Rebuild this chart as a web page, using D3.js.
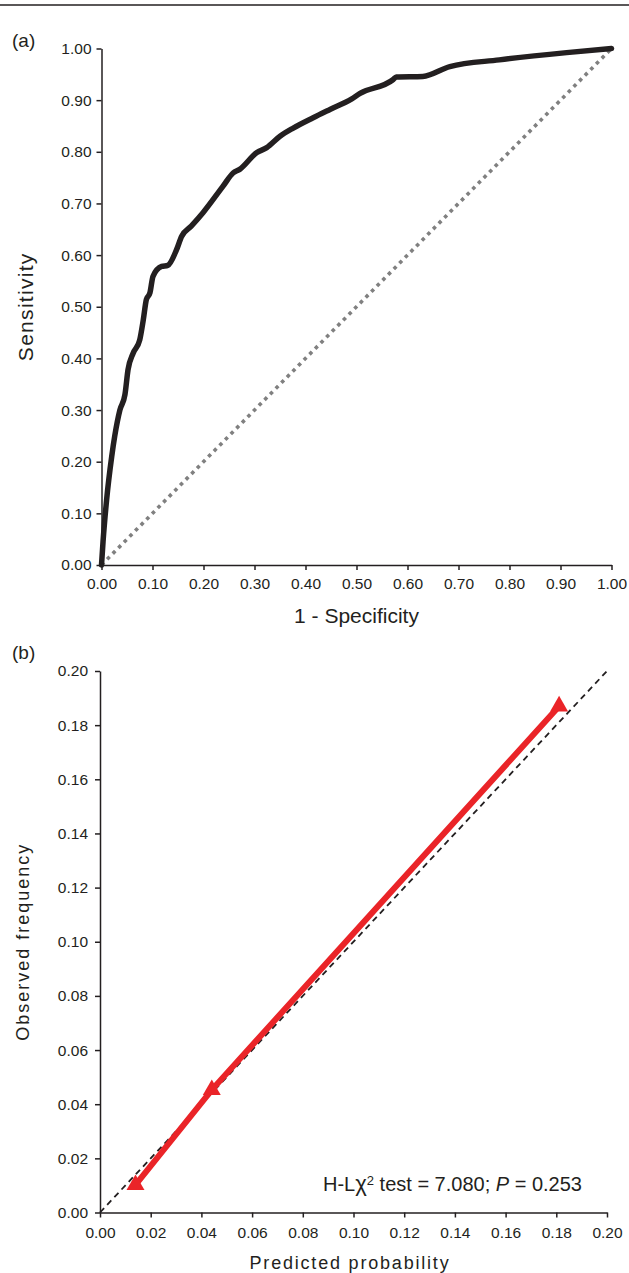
<!DOCTYPE html>
<html>
<head>
<meta charset="utf-8">
<script src="https://cdn.jsdelivr.net/npm/d3@7"></script>
<style>
  html, body { margin: 0; padding: 0; background: #fff; }
  svg { display: block; font-family: "Liberation Sans", Arial, Helvetica, sans-serif; }
</style>
</head>
<body>
<div id="chart"></div>
<script>
// (a) ROC curve
const rocFpr = [0, 0.003, 0.01, 0.02, 0.026, 0.036, 0.046, 0.052, 0.062, 0.075, 0.082, 0.088, 0.095, 0.101,
  0.118, 0.13, 0.147, 0.157, 0.176, 0.199, 0.238, 0.258, 0.271, 0.304, 0.324, 0.35, 0.376, 0.415, 0.448,
  0.49, 0.507, 0.572, 0.578, 0.63, 0.683, 0.78, 0.912, 1.0];
const rocTpr = [0, 0.045, 0.126, 0.21, 0.25, 0.30, 0.33, 0.378, 0.41, 0.436, 0.475, 0.514, 0.527, 0.559,
  0.578, 0.58, 0.61, 0.636, 0.656, 0.682, 0.733, 0.759, 0.766, 0.798, 0.808, 0.83, 0.846, 0.866, 0.882,
  0.902, 0.913, 0.94, 0.945, 0.946, 0.965, 0.978, 0.992, 1.0];
const rocTicks = [0, 0.1, 0.2, 0.3, 0.4, 0.5, 0.6, 0.7, 0.8, 0.9, 1.0];

// (b) calibration, three risk groups
const calPredicted = [0.014, 0.0441, 0.1811];
const calObserved = [0.0102, 0.0453, 0.187];
const calTicks = [0, 0.02, 0.04, 0.06, 0.08, 0.10, 0.12, 0.14, 0.16, 0.18, 0.20];

const width = 629;
const height = 1273;
const ink = "#231f20";

const svg = d3.select("#chart")
  .append("svg")
  .attr("width", width)
  .attr("height", height);

// thin rule across the top of the page
svg.append("line")
  .attr("x1", 0).attr("x2", width)
  .attr("y1", 5).attr("y2", 5)
  .attr("stroke", ink)
  .attr("stroke-width", 1.6);

function styleAxis(g, fontSize) {
  g.select(".domain").attr("stroke", ink).attr("stroke-width", 1.5);
  g.selectAll(".tick line").attr("stroke", ink).attr("stroke-width", 1.5);
  g.selectAll(".tick text")
    .attr("fill", ink)
    .style("font-size", fontSize + "px")
    .style("font-family", '"Liberation Sans", Arial, sans-serif');
}

// ---------- panel (a) ----------
const xa = d3.scaleLinear().domain([0, 1]).range([101.5, 611.5]);
const ya = d3.scaleLinear().domain([0, 1]).range([565, 48.5]);

const panelA = svg.append("g");

panelA.append("g")
  .attr("transform", `translate(0,${ya(0)})`)
  .call(d3.axisBottom(xa).tickValues(rocTicks).tickFormat(d3.format(".2f")).tickSize(5).tickSizeOuter(0).tickPadding(8))
  .call(g => styleAxis(g, 15.5));

panelA.append("g")
  .attr("transform", `translate(${xa(0)},0)`)
  .call(d3.axisLeft(ya).tickValues(rocTicks).tickFormat(d3.format(".2f")).tickSize(5).tickSizeOuter(0).tickPadding(5))
  .call(g => styleAxis(g, 15.5));

// chance line
panelA.append("line")
  .attr("x1", xa(0)).attr("y1", ya(0))
  .attr("x2", xa(1)).attr("y2", ya(1))
  .attr("stroke", "#808080")
  .attr("stroke-width", 3.6)
  .attr("stroke-dasharray", "3.6,4.4");

const rocPoints = rocFpr.map((x, i) => [x, rocTpr[i]]);
const rocLine = d3.line()
  .x(d => xa(d[0]))
  .y(d => ya(d[1]))
  .curve(d3.curveMonotoneX);

panelA.append("path")
  .datum(rocPoints)
  .attr("d", rocLine)
  .attr("fill", "none")
  .attr("stroke", ink)
  .attr("stroke-width", 5.5)
  .attr("stroke-linejoin", "round")
  .attr("stroke-linecap", "round");

panelA.append("text")
  .attr("x", 12).attr("y", 47)
  .attr("fill", ink)
  .style("font-size", "19px")
  .text("(a)");

panelA.append("text")
  .attr("transform", `translate(33,${(ya(0) + ya(1)) / 2}) rotate(-90)`)
  .attr("text-anchor", "middle")
  .attr("fill", ink)
  .style("font-size", "21px")
  .style("letter-spacing", "1.3px")
  .text("Sensitivity");

panelA.append("text")
  .attr("x", (xa(0) + xa(1)) / 2)
  .attr("y", 623)
  .attr("text-anchor", "middle")
  .attr("fill", ink)
  .style("font-size", "21px")
  .text("1 - Specificity");

// ---------- panel (b) ----------
const xb = d3.scaleLinear().domain([0, 0.2]).range([100, 607]);
const yb = d3.scaleLinear().domain([0, 0.2]).range([1212.5, 671]);

const panelB = svg.append("g");

panelB.append("g")
  .attr("transform", `translate(0,${yb(0)})`)
  .call(d3.axisBottom(xb).tickValues(calTicks).tickFormat(d3.format(".2f")).tickSize(5).tickSizeOuter(0).tickPadding(9))
  .call(g => styleAxis(g, 15.5));

panelB.append("g")
  .attr("transform", `translate(${xb(0)},0)`)
  .call(d3.axisLeft(yb).tickValues(calTicks).tickFormat(d3.format(".2f")).tickSize(5).tickSizeOuter(0).tickPadding(7))
  .call(g => styleAxis(g, 15.5));

// perfect calibration reference
panelB.append("line")
  .attr("x1", xb(0)).attr("y1", yb(0))
  .attr("x2", xb(0.2)).attr("y2", yb(0.2))
  .attr("stroke", ink)
  .attr("stroke-width", 1.8)
  .attr("stroke-dasharray", "6,4.5");

const calPoints = calPredicted.map((x, i) => [x, calObserved[i]]);
const red = "#ea2428";

panelB.append("path")
  .datum(calPoints)
  .attr("d", d3.line().x(d => xb(d[0])).y(d => yb(d[1])))
  .attr("fill", "none")
  .attr("stroke", red)
  .attr("stroke-width", 6);

panelB.selectAll(".marker")
  .data(calPoints)
  .enter()
  .append("path")
  .attr("class", "marker")
  .attr("transform", d => `translate(${xb(d[0])},${yb(d[1])})`)
  .attr("d", d3.symbol().type(d3.symbolTriangle).size(140))
  .attr("fill", red);

panelB.append("text")
  .attr("x", 12).attr("y", 659)
  .attr("fill", ink)
  .style("font-size", "19px")
  .text("(b)");

panelB.append("text")
  .attr("transform", `translate(29,${(yb(0) + yb(0.2)) / 2}) rotate(-90)`)
  .attr("text-anchor", "middle")
  .attr("fill", ink)
  .style("font-size", "18px")
  .style("letter-spacing", "2px")
  .text("Observed frequency");

panelB.append("text")
  .attr("x", 350)
  .attr("y", 1269)
  .attr("text-anchor", "middle")
  .attr("fill", ink)
  .style("font-size", "18px")
  .style("letter-spacing", "1.8px")
  .text("Predicted probability");

const note = panelB.append("text")
  .attr("x", 323)
  .attr("y", 1190.5)
  .attr("fill", ink)
  .style("font-size", "20px");
note.append("tspan").text("H-L");
note.append("tspan").style("font-size", "22px").text("\u03C7");
note.append("tspan").attr("dy", -6).style("font-size", "13px").text("2");
note.append("tspan").attr("dy", 6).text(" test = 7.080; ");
note.append("tspan").style("font-style", "italic").text("P");
note.append("tspan").text(" = 0.253");
</script>
</body>
</html>
